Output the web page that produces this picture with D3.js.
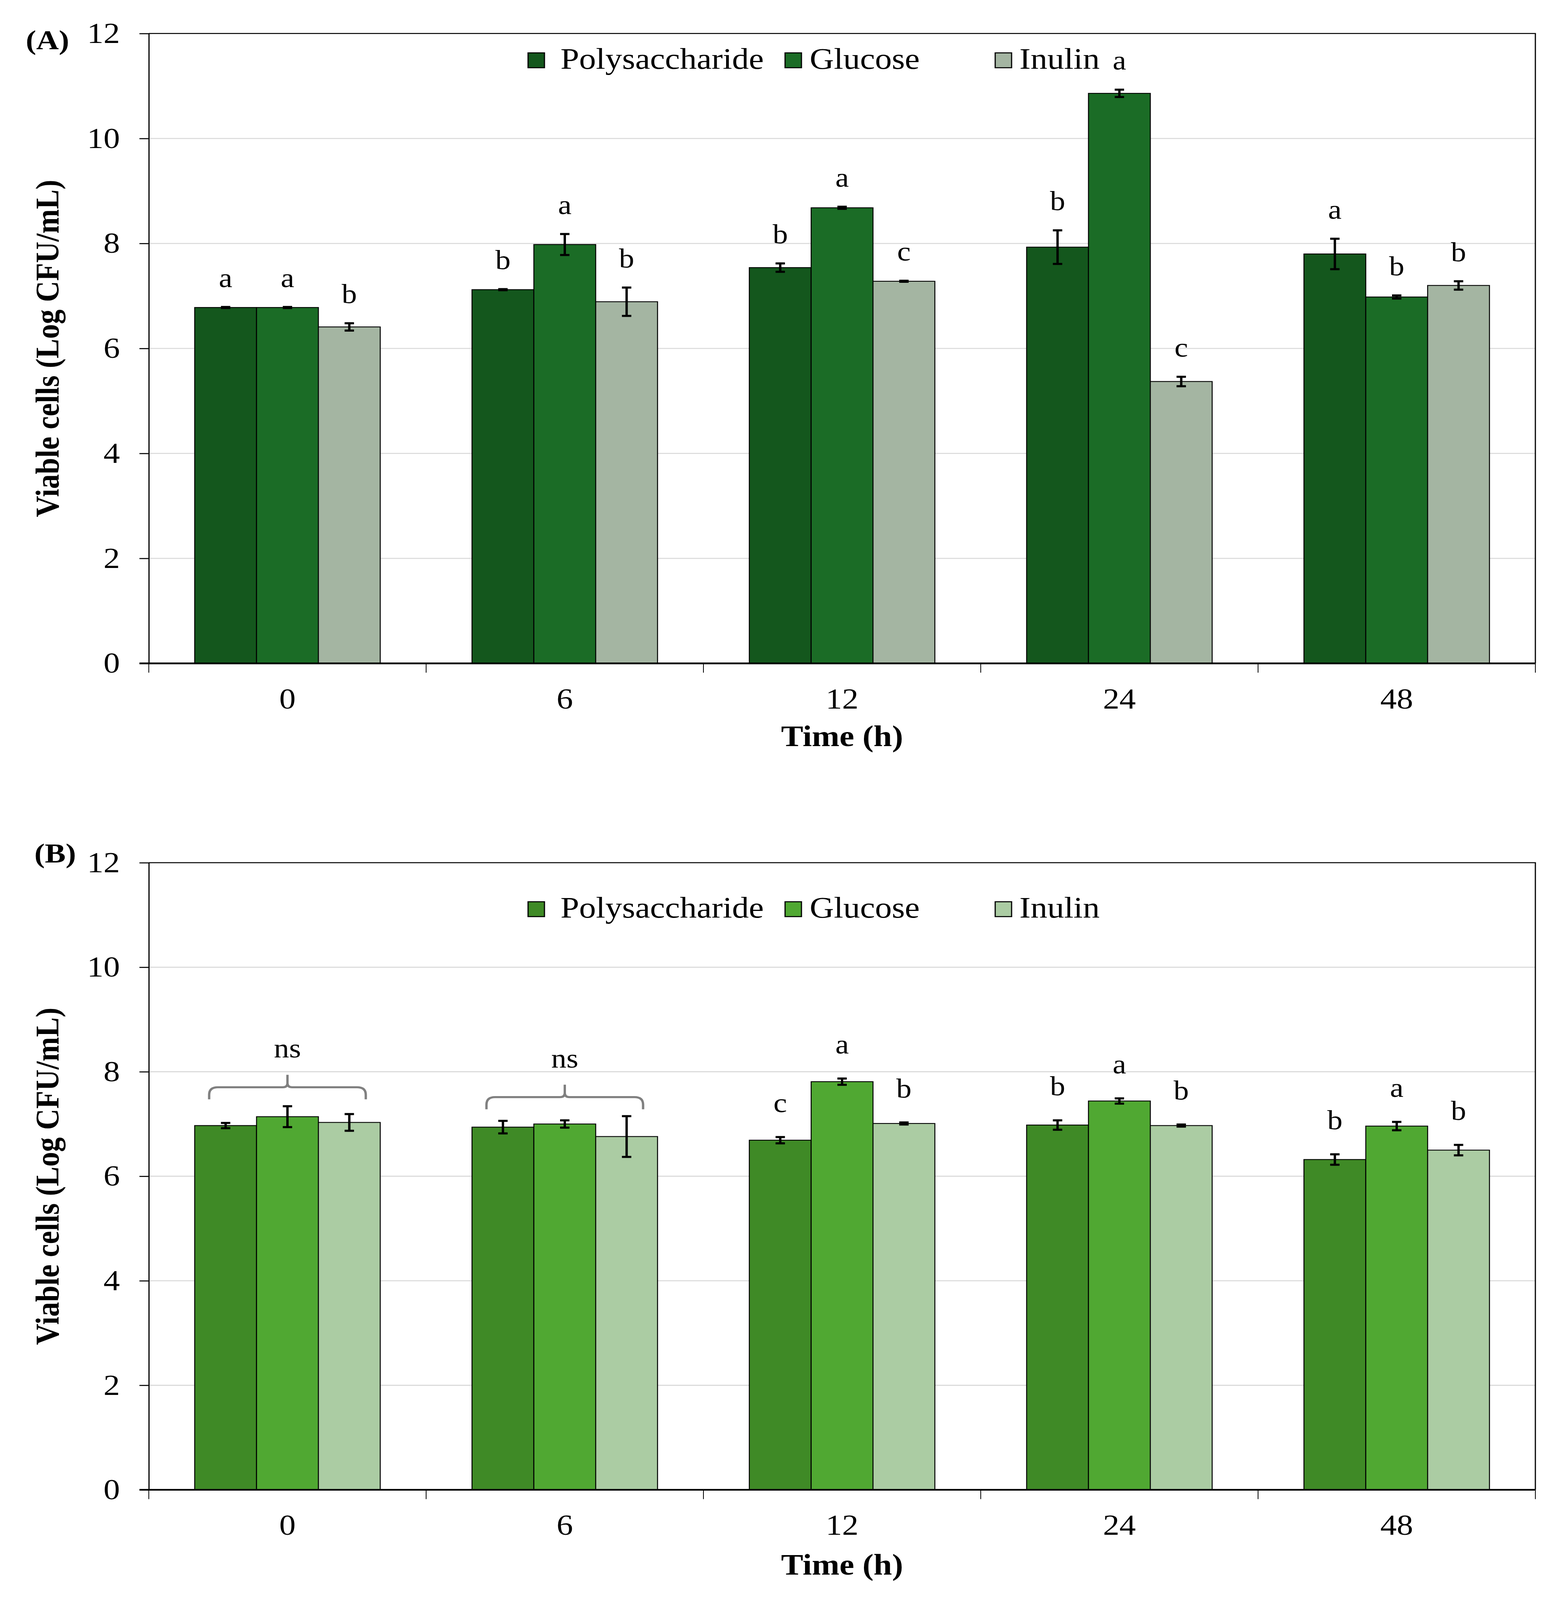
<!DOCTYPE html>
<html>
<head>
<meta charset="utf-8">
<style>
  body { margin: 0; background: #fff; overflow: hidden; }
  svg { display: block; }
  text { font-family: "Liberation Serif", "Times New Roman", serif; fill: #000; }
</style>
</head>
<body>
<svg id="chart"></svg>
<script src="https://cdn.jsdelivr.net/npm/d3@7"></script>
<script>

// categories and series
var times = ["0", "6", "12", "24", "48"];
var seriesNames = ["Polysaccharide", "Glucose", "Inulin"];
var yTicks = [0, 2, 4, 6, 8, 10, 12];

// panel A values (Log CFU/mL) and error bars
var aPoly    = [6.78, 7.12, 7.54, 7.93, 7.80];
var aPolyErr = [0.01, 0.01, 0.08, 0.32, 0.29];
var aGlu     = [6.78, 7.98, 8.68, 10.86, 6.98];
var aGluErr  = [0.01, 0.20, 0.02, 0.07, 0.03];
var aInu     = [6.41, 6.89, 7.28, 5.37, 7.20];
var aInuErr  = [0.07, 0.27, 0.01, 0.09, 0.08];
var aLetters = [["a", "a", "b"], ["b", "a", "b"], ["b", "a", "c"], ["b", "a", "c"], ["a", "b", "b"]];

// panel B values
var bPoly    = [6.97, 6.94, 6.69, 6.98, 6.32];
var bPolyErr = [0.05, 0.12, 0.06, 0.09, 0.10];
var bGlu     = [7.14, 7.00, 7.81, 7.44, 6.96];
var bGluErr  = [0.20, 0.07, 0.06, 0.05, 0.08];
var bInu     = [7.03, 6.76, 7.01, 6.97, 6.50];
var bInuErr  = [0.16, 0.39, 0.02, 0.02, 0.10];
var bLetters = [null, null, ["c", "a", "b"], ["b", "a", "b"], ["b", "a", "b"]];
var bBrackets = [{time: "0", label: "ns"}, {time: "6", label: "ns"}];

// drawing is laid out on the reference's 4012 x 4631 grid and fitted to the window
var W = 4012, H = 4631;
var left = 381, right = 3931;
var viewH = Math.min(window.innerHeight || 4096, 4096);

var svg = d3.select('#chart')
    .attr('width', W).attr('height', viewH)
    .attr('viewBox', '0 0 ' + W + ' ' + H)
    .attr('preserveAspectRatio', 'none');
svg.append('rect').attr('width', W).attr('height', H).attr('fill', '#fff');

var x = d3.scaleBand().domain(times).range([left, right]).padding(0);
var xs = d3.scaleBand().domain(seriesNames).range([0, x.bandwidth()]).paddingInner(0).paddingOuter(0.742);

function rows(means, errs, letters) {
    // one record per bar
    var out = [];
    times.forEach(function(t, i) {
        seriesNames.forEach(function(s, j) {
            out.push({time: t, series: s, v: means[j][i], e: errs[j][i],
                      letter: letters[i] ? letters[i][j] : null});
        });
    });
    return out;
}

drawPanel({
    label: '(A)', labelX: 66, labelY: 142,
    top: 97, bottom: 1920,
    colors: ["#14571d", "#1b6c26", "#a4b5a2"],
    data: rows([aPoly, aGlu, aInu], [aPolyErr, aGluErr, aInuErr], aLetters),
    brackets: [],
    letterGap: 58,
    legendBase: 199,
    titleGap: 239
});

drawPanel({
    label: '(B)', labelX: 88, labelY: 2496,
    top: 2497, bottom: 4312,
    colors: ["#3f8a26", "#50a832", "#abcca3"],
    data: rows([bPoly, bGlu, bInu], [bPolyErr, bGluErr, bInuErr], bLetters),
    brackets: bBrackets,
    letterGap: 72,
    legendBase: 2656,
    titleGap: 245
});

function drawPanel(p) {
    var y = d3.scaleLinear().domain([0, 12]).range([p.bottom, p.top]);
    var color = d3.scaleOrdinal().domain(seriesNames).range(p.colors);
    var g = svg.append('g');

    // gridlines
    g.selectAll('.grid').data(yTicks.filter(function(d) { return d > 0 && d < 12; }))
        .enter().append('line')
        .attr('x1', left).attr('x2', right)
        .attr('y1', function(d) { return y(d); }).attr('y2', function(d) { return y(d); })
        .attr('stroke', '#d9d9d9').attr('stroke-width', 3);

    // plot frame (top and right)
    g.append('path')
        .attr('d', 'M' + left + ',' + y(12) + 'H' + right + 'V' + y(0))
        .attr('fill', 'none').attr('stroke', '#000').attr('stroke-width', 3);

    // bars
    g.selectAll('.bar').data(p.data).enter().append('rect')
        .attr('x', function(d) { return x(d.time) + xs(d.series); })
        .attr('width', xs.bandwidth())
        .attr('y', function(d) { return y(d.v); })
        .attr('height', function(d) { return y(0) - y(d.v); })
        .attr('fill', function(d) { return color(d.series); })
        .attr('stroke', '#000').attr('stroke-width', 2.5);

    // error bars
    var eb = g.selectAll('.err').data(p.data).enter().append('g')
        .attr('transform', function(d) { return 'translate(' + (x(d.time) + xs(d.series) + xs.bandwidth() / 2) + ',0)'; });
    eb.append('line')
        .attr('y1', function(d) { return y(d.v - d.e); }).attr('y2', function(d) { return y(d.v + d.e); })
        .attr('stroke', '#000').attr('stroke-width', 6);
    eb.selectAll('.cap').data(function(d) { return [d.v - d.e, d.v + d.e]; }).enter().append('line')
        .attr('x1', -12).attr('x2', 12)
        .attr('y1', function(d) { return y(d); }).attr('y2', function(d) { return y(d); })
        .attr('stroke', '#000').attr('stroke-width', 6);

    // significance letters
    g.selectAll('.letter').data(p.data.filter(function(d) { return d.letter; })).enter().append('text')
        .attr('x', function(d) { return x(d.time) + xs(d.series) + xs.bandwidth() / 2; })
        .attr('y', function(d) { return y(d.v + d.e) - p.letterGap; })
        .attr('text-anchor', 'middle').style('font-size', '78px')
        .text(function(d) { return d.letter; });

    // "ns" braces
    p.brackets.forEach(function(b) {
        var grp = p.data.filter(function(d) { return d.time === b.time; });
        var topVal = d3.max(grp, function(d) { return d.v + d.e; });
        var x1 = x(b.time) + xs(seriesNames[0]) + 37;
        var x2 = x(b.time) + xs(seriesNames[2]) + xs.bandwidth() - 37;
        var xm = (x1 + x2) / 2;
        var yEnd = y(topVal) - 20, yH = yEnd - 35, yPk = yH - 36, r = 22, r2 = 12;
        var d = 'M' + x1 + ',' + yEnd + 'V' + (yH + r) + 'Q' + x1 + ',' + yH + ' ' + (x1 + r) + ',' + yH +
                'H' + (xm - r2) + 'Q' + xm + ',' + yH + ' ' + xm + ',' + (yH - r2) + 'V' + yPk +
                'M' + xm + ',' + (yH - r2) + 'Q' + xm + ',' + yH + ' ' + (xm + r2) + ',' + yH +
                'H' + (x2 - r) + 'Q' + x2 + ',' + yH + ' ' + x2 + ',' + (yH + r) + 'V' + yEnd;
        g.append('path').attr('d', d).attr('fill', 'none')
            .attr('stroke', '#808080').attr('stroke-width', 6);
        g.append('text').attr('x', xm).attr('y', yPk - 50)
            .attr('text-anchor', 'middle').style('font-size', '78px').text(b.label);
    });

    // y axis
    var yAxis = g.append('g').attr('transform', 'translate(' + left + ',0)')
        .call(d3.axisLeft(y).tickValues(yTicks).tickSize(24).tickSizeOuter(0).tickPadding(50));
    yAxis.select('.domain').attr('stroke', '#000').attr('stroke-width', 3);
    yAxis.selectAll('.tick line').attr('stroke', '#000').attr('stroke-width', 3);
    yAxis.selectAll('.tick text').style('font-size', '84px')
        .style('font-family', '"Liberation Serif", "Times New Roman", serif');

    // x axis labels
    var xAxis = g.append('g').attr('transform', 'translate(0,' + y(0) + ')')
        .call(d3.axisBottom(x).tickSize(0).tickPadding(71));
    xAxis.select('.domain').remove();
    xAxis.selectAll('.tick text').style('font-size', '84px')
        .style('font-family', '"Liberation Serif", "Times New Roman", serif');

    // x tick marks at category boundaries
    var bounds = times.map(function(t) { return x(t); }).concat([x(times[times.length - 1]) + x.bandwidth()]);
    g.selectAll('.xtick').data(bounds).enter().append('line')
        .attr('x1', function(d) { return d; }).attr('x2', function(d) { return d; })
        .attr('y1', y(0)).attr('y2', y(0) + 27)
        .attr('stroke', '#000').attr('stroke-width', 2);

    // baseline
    g.append('line').attr('x1', left - 24).attr('x2', right)
        .attr('y1', y(0)).attr('y2', y(0))
        .attr('stroke', '#000').attr('stroke-width', 5);

    // axis titles
    g.append('text').attr('x', (left + right) / 2).attr('y', y(0) + p.titleGap)
        .attr('text-anchor', 'middle').style('font-size', '85px').style('font-weight', 'bold')
        .text('Time (h)');
    g.append('text')
        .attr('transform', 'translate(150,' + (p.top + p.bottom) / 2 + ') rotate(-90)')
        .attr('text-anchor', 'middle').style('font-size', '85px').style('font-weight', 'bold')
        .text('Viable cells (Log CFU/mL)');

    // panel letter
    g.append('text').attr('x', p.labelX).attr('y', p.labelY)
        .style('font-size', '80px').style('font-weight', 'bold').text(p.label);

    // legend
    var legendX = [1352, 2010, 2548], legendDx = [83, 63, 62];
    var lg = g.selectAll('.legend').data(seriesNames).enter().append('g');
    lg.append('rect')
        .attr('x', function(d, i) { return legendX[i]; })
        .attr('y', p.legendBase - 46).attr('width', 42).attr('height', 43)
        .attr('fill', function(d) { return color(d); })
        .attr('stroke', '#000').attr('stroke-width', 3);
    lg.append('text')
        .attr('x', function(d, i) { return legendX[i] + legendDx[i]; })
        .attr('y', p.legendBase)
        .style('font-size', '86px')
        .text(function(d) { return d; });
}

</script>
</body>
</html>
